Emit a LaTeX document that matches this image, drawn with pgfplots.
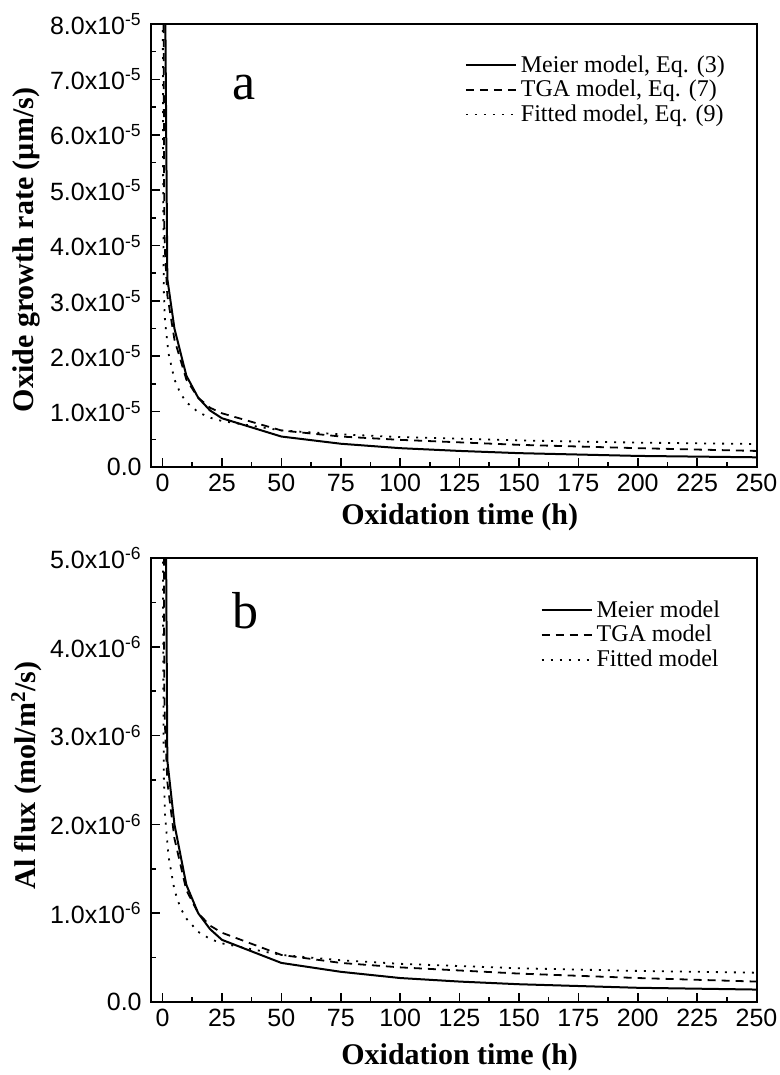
\documentclass[border=0pt]{standalone}
\usepackage{fontspec}
\setmainfont{Liberation Serif}
\newfontfamily\arial{Liberation Sans}
\usepackage{pgfplots}
\pgfplotsset{compat=1.18}
\pgfplotsset{mystyle/.style={
  scale only axis, width=302.9pt,
  xmin=-5, xmax=250,
  xtick={0,25,...,250}, minor x tick num=1, minor y tick num=1,
  tick align=inside, xtick pos=left, ytick pos=left,
  major tick length=4.5pt, minor tick length=2.5pt,
  every tick/.style={black, line width=0.8pt},
  axis line style={line width=1pt},
  tick label style={font=\arial\fontsize{12.5}{12.5}\selectfont},
  /pgf/number format/assume math mode=true,
  xticklabel style={yshift=-1.5pt, inner sep=2pt},
  yticklabel style={xshift=-1pt},
  label style={font=\bfseries\fontsize{15}{15}\selectfont, inner sep=1pt},
  legend cell align=left,
  legend style={draw=none, fill=none, font=\fontsize{12}{13}\selectfont, inner sep=0pt, row sep=2.5pt,
    nodes={inner xsep=2pt, inner ysep=0pt}},
  legend image code/.code={\draw[#1] (0pt,0pt) -- (25pt,0pt);},
  meier/.style={black, solid, line width=1pt},
  tga/.style={black, line width=0.9pt, dash pattern=on 4pt off 3pt},
  fit/.style={black, line width=0.9pt, dash pattern=on 1pt off 3.5pt},
}}
\begin{document}
\begin{tikzpicture}
\begin{axis}[mystyle, at={(75.35pt,304pt)}, anchor=south west, height=221.5pt,
  ymin=0, ymax=8, ytick={0,1,...,8},
  yticklabels={0.0,1.0x10\textsuperscript{-5},2.0x10\textsuperscript{-5},3.0x10\textsuperscript{-5},4.0x10\textsuperscript{-5},5.0x10\textsuperscript{-5},6.0x10\textsuperscript{-5},7.0x10\textsuperscript{-5},8.0x10\textsuperscript{-5}},
  xlabel={Oxidation time (h)}, ylabel={Oxide growth rate (µm/s)},
  xlabel style={at={(axis description cs:0.51,-0.114)}, anchor=center},
  ylabel style={at={(axis description cs:-0.205,0.49)}, anchor=center},
  legend style={at={(axis description cs:0.518,0.93)}, anchor=north west},
]
\addplot[meier] coordinates {(1,9.0) (2,3.4) (5,2.5) (10,1.65) (15,1.25) (20,1.02) (25,0.88) (50,0.55) (75,0.42) (100,0.34) (125,0.29) (150,0.25) (200,0.20) (250,0.175)};
\addlegendentry{Meier model, Eq. (3)}
\addplot[tga] coordinates {(0.3,10) (0.7,4.4) (1,3.9) (2,3.1) (5,2.3) (10,1.58) (15,1.25) (20,1.07) (25,0.97) (50,0.66) (75,0.55) (100,0.49) (150,0.40) (200,0.34) (250,0.29)};
\addlegendentry{TGA model, Eq. (7)}
\addplot[fit] coordinates {(0.05,10) (0.2,5.5) (0.5,3.2) (1,2.65) (2.5,2.05) (5,1.58) (7.5,1.33) (10,1.17) (15,0.99) (20,0.89) (25,0.83) (50,0.66) (75,0.59) (100,0.54) (150,0.48) (200,0.44) (250,0.415)};
\addlegendentry{Fitted model, Eq. (9)}
\node[font=\fontsize{26}{26}\selectfont] at (axis cs:34.5,6.85) {a};
\end{axis}
\begin{axis}[mystyle, at={(75.35pt,36.5pt)}, anchor=south west, height=222pt,
  ymin=0, ymax=5, ytick={0,1,...,5},
  yticklabels={0.0,1.0x10\textsuperscript{-6},2.0x10\textsuperscript{-6},3.0x10\textsuperscript{-6},4.0x10\textsuperscript{-6},5.0x10\textsuperscript{-6}},
  xlabel={Oxidation time (h)}, ylabel={Al flux (mol/m\textsuperscript{2}/s)},
  xlabel style={at={(axis description cs:0.51,-0.124)}, anchor=center},
  ylabel style={at={(axis description cs:-0.205,0.51)}, anchor=center},
  legend style={at={(axis description cs:0.643,0.905)}, anchor=north west},
]
\addplot[meier] coordinates {(1,7.2) (2,2.72) (5,2.0) (10,1.32) (15,1.0) (20,0.82) (25,0.70) (50,0.44) (75,0.34) (100,0.27) (125,0.23) (150,0.20) (200,0.16) (250,0.14)};
\addlegendentry{Meier model}
\addplot[tga] coordinates {(0.3,8) (0.7,3.52) (1,3.12) (2,2.48) (5,1.84) (10,1.26) (15,1.0) (20,0.86) (25,0.78) (50,0.53) (75,0.44) (100,0.39) (150,0.32) (200,0.27) (250,0.23)};
\addlegendentry{TGA model}
\addplot[fit] coordinates {(0.05,8) (0.2,4.4) (0.5,2.56) (1,2.12) (2.5,1.64) (5,1.26) (7.5,1.06) (10,0.94) (15,0.79) (20,0.71) (25,0.66) (50,0.53) (75,0.47) (100,0.43) (150,0.38) (200,0.35) (250,0.33)};
\addlegendentry{Fitted model}
\node[font=\fontsize{26}{26}\selectfont] at (axis cs:35,4.41) {b};
\end{axis}
\pgfresetboundingbox
\path (0pt,0pt) rectangle (390pt,537.5pt);
\end{tikzpicture}
\end{document}
